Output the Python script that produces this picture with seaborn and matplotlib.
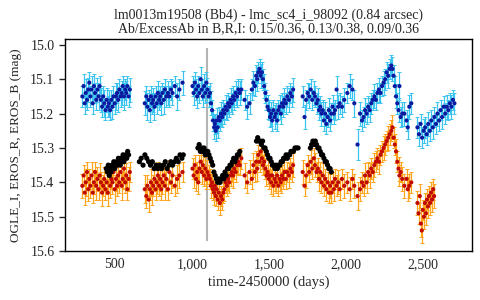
import matplotlib
matplotlib.use("Agg")
import matplotlib.pyplot as plt
from matplotlib.ticker import FuncFormatter
import seaborn as sns

# EROS_B light curve (time-2450000, mag, error)
b_time = [
    290, 298, 305, 312, 320, 328, 335, 342, 350, 357,
    365, 372, 380, 388, 395, 402, 410, 418, 425, 432,
    440, 448, 455, 462, 470, 478, 485, 492, 500, 508,
    515, 522, 530, 538, 545, 552, 560, 568, 575, 582,
    590, 598,
    695, 705, 712, 720, 728, 735, 742, 750, 758, 765,
    772, 780, 788, 795, 802, 810, 818, 825, 835, 845,
    855, 865, 875, 890, 905, 920, 940,
    1005, 1012, 1020, 1028, 1035, 1042, 1050, 1058, 1065, 1072,
    1080, 1088, 1095, 1102, 1110, 1118, 1125, 1132, 1138, 1145,
    1150, 1156, 1162, 1168, 1175, 1182, 1190, 1198, 1205, 1212,
    1220, 1228, 1236, 1244, 1252, 1260, 1268, 1276, 1285, 1294,
    1303, 1312, 1322,
    1343, 1360, 1375, 1390, 1400, 1410, 1418, 1425, 1432, 1440,
    1447, 1455, 1462, 1470, 1478, 1485, 1492, 1500, 1508, 1515,
    1522, 1530, 1538, 1546, 1554, 1562, 1570, 1578, 1586, 1594,
    1602, 1610, 1620, 1630, 1640, 1650, 1658,
    1720, 1732, 1742, 1752, 1762, 1772, 1782, 1792, 1800, 1810,
    1818, 1826, 1834, 1842, 1850, 1858, 1866, 1874, 1882, 1890,
    1898, 1906, 1914, 1922, 1930, 1940, 1950, 1960, 1975, 1990,
    2010, 2025, 2043, 2055, 2076, 2092, 2105, 2115, 2125, 2135,
    2145, 2155, 2165, 2175, 2185, 2195, 2205, 2215, 2225, 2235,
    2245, 2255, 2265, 2275, 2285, 2295, 2303, 2310, 2318, 2326,
    2334, 2342, 2348, 2356, 2366, 2380, 2394, 2402, 2412, 2425,
    2465, 2475, 2485, 2495, 2505, 2515, 2525, 2535, 2545, 2555,
    2565, 2575, 2585, 2595, 2605, 2615, 2625, 2635, 2645, 2655,
    2665, 2675, 2685, 2695, 2705,
]
b_mag = [
    15.15, 15.12, 15.17, 15.14, 15.16, 15.13, 15.11, 15.15, 15.13, 15.17,
    15.12, 15.14, 15.16, 15.13, 15.15, 15.12, 15.16, 15.18, 15.15, 15.17,
    15.19, 15.16, 15.18, 15.17, 15.19, 15.16, 15.18, 15.15, 15.17, 15.15,
    15.14, 15.16, 15.13, 15.15, 15.14, 15.12, 15.15, 15.13, 15.14, 15.12,
    15.15, 15.13,
    15.17, 15.15, 15.18, 15.16, 15.19, 15.15, 15.17, 15.16, 15.18, 15.15,
    15.17, 15.14, 15.16, 15.15, 15.17, 15.14, 15.16, 15.13, 15.15, 15.14,
    15.15, 15.13, 15.14, 15.12, 15.15, 15.13, 15.11,
    15.12, 15.14, 15.11, 15.13, 15.15, 15.12, 15.14, 15.10, 15.13, 15.15,
    15.12, 15.14, 15.11, 15.13, 15.15, 15.14, 15.17, 15.19, 15.22, 15.24,
    15.23, 15.25, 15.22, 15.24, 15.21, 15.22, 15.20, 15.21, 15.19, 15.20,
    15.18, 15.19, 15.17, 15.18, 15.16, 15.17, 15.15, 15.16, 15.14, 15.15,
    15.13, 15.14, 15.13,
    15.16, 15.18, 15.17, 15.13, 15.11, 15.12, 15.09, 15.10, 15.08, 15.07,
    15.09, 15.08, 15.10, 15.12, 15.14, 15.16, 15.18, 15.19, 15.21, 15.20,
    15.22, 15.19, 15.21, 15.20, 15.22, 15.19, 15.18, 15.20, 15.17, 15.18,
    15.16, 15.17, 15.15, 15.16, 15.14, 15.15, 15.13,
    15.15, 15.21, 15.16, 15.14, 15.15, 15.13, 15.16, 15.14, 15.15, 15.17,
    15.16, 15.19, 15.18, 15.20, 15.19, 15.22, 15.20, 15.23, 15.21, 15.19,
    15.22, 15.20, 15.18, 15.20, 15.19, 15.13, 15.18, 15.17, 15.18, 15.16,
    15.14, 15.12, 15.13, 15.17, 15.29, 15.20, 15.22, 15.21, 15.19, 15.20,
    15.18, 15.19, 15.17, 15.16, 15.15, 15.16, 15.14, 15.13, 15.14, 15.12,
    15.11, 15.10, 15.08, 15.09, 15.07, 15.06, 15.07, 15.09, 15.12, 15.15,
    15.17, 15.19, 15.12, 15.21, 15.20, 15.20, 15.22, 15.24, 15.18, 15.17,
    15.24, 15.26, 15.23, 15.27, 15.25, 15.24, 15.26, 15.23, 15.25, 15.22,
    15.24, 15.21, 15.23, 15.20, 15.22, 15.19, 15.21, 15.18, 15.20, 15.18,
    15.19, 15.17, 15.18, 15.16, 15.17,
]
b_err = [
    0.030, 0.035, 0.030, 0.040, 0.030, 0.035, 0.030, 0.030, 0.040, 0.030,
    0.035, 0.030, 0.030, 0.035, 0.040, 0.030, 0.035, 0.030, 0.030, 0.040,
    0.030, 0.035, 0.030, 0.040, 0.030, 0.030, 0.035, 0.030, 0.030, 0.040,
    0.030, 0.035, 0.030, 0.030, 0.035, 0.030, 0.040, 0.030, 0.035, 0.030,
    0.030, 0.035,
    0.035, 0.030, 0.040, 0.030, 0.035, 0.030, 0.030, 0.035, 0.040, 0.030,
    0.030, 0.035, 0.030, 0.030, 0.035, 0.030, 0.040, 0.030, 0.030, 0.035,
    0.030, 0.030, 0.035, 0.030, 0.040, 0.030, 0.035,
    0.030, 0.035, 0.030, 0.030, 0.035, 0.030, 0.030, 0.035, 0.030, 0.030,
    0.035, 0.030, 0.030, 0.035, 0.030, 0.030, 0.035, 0.030, 0.030, 0.035,
    0.030, 0.030, 0.035, 0.030, 0.030, 0.030, 0.035, 0.030, 0.030, 0.030,
    0.035, 0.030, 0.030, 0.030, 0.035, 0.030, 0.030, 0.030, 0.035, 0.030,
    0.030, 0.035, 0.030,
    0.030, 0.035, 0.030, 0.030, 0.035, 0.030, 0.030, 0.035, 0.030, 0.030,
    0.035, 0.030, 0.030, 0.035, 0.030, 0.030, 0.035, 0.030, 0.030, 0.035,
    0.030, 0.030, 0.035, 0.030, 0.030, 0.030, 0.035, 0.030, 0.030, 0.030,
    0.035, 0.030, 0.030, 0.035, 0.030, 0.030, 0.035,
    0.030, 0.035, 0.030, 0.030, 0.035, 0.030, 0.030, 0.035, 0.030, 0.030,
    0.035, 0.030, 0.030, 0.035, 0.030, 0.030, 0.035, 0.030, 0.030, 0.035,
    0.030, 0.030, 0.035, 0.030, 0.030, 0.040, 0.035, 0.030, 0.030, 0.035,
    0.030, 0.035, 0.030, 0.040, 0.045, 0.035, 0.030, 0.030, 0.035, 0.030,
    0.030, 0.035, 0.030, 0.030, 0.035, 0.030, 0.030, 0.035, 0.030, 0.030,
    0.035, 0.030, 0.030, 0.035, 0.030, 0.030, 0.035, 0.030, 0.030, 0.035,
    0.030, 0.035, 0.040, 0.030, 0.035, 0.035, 0.030, 0.035, 0.035, 0.030,
    0.030, 0.035, 0.030, 0.030, 0.035, 0.030, 0.030, 0.035, 0.030, 0.030,
    0.035, 0.030, 0.030, 0.035, 0.030, 0.030, 0.035, 0.030, 0.030, 0.035,
    0.030, 0.030, 0.035, 0.030, 0.030,
]

# EROS_R light curve (same epochs as EROS_B up to 2425, then its own)
r_time = b_time[:219] + [
    2465, 2472, 2480, 2487, 2493, 2500, 2507, 2513, 2520, 2527,
    2533, 2540, 2547, 2553, 2560, 2567, 2573,
]
r_mag = [
    15.41, 15.38, 15.43, 15.40, 15.37, 15.42, 15.39, 15.41, 15.38, 15.43,
    15.40, 15.37, 15.41, 15.39, 15.42, 15.38, 15.40, 15.43, 15.41, 15.39,
    15.42, 15.40, 15.43, 15.38, 15.41, 15.39, 15.40, 15.37, 15.42, 15.39,
    15.41, 15.38, 15.40, 15.37, 15.41, 15.39, 15.36, 15.40, 15.38, 15.42,
    15.39, 15.37,
    15.42, 15.44, 15.41, 15.45, 15.42, 15.40, 15.43, 15.41, 15.39, 15.42,
    15.40, 15.38, 15.41, 15.39, 15.42, 15.40, 15.38, 15.41, 15.39, 15.42,
    15.37, 15.40, 15.38, 15.41, 15.39, 15.38, 15.37,
    15.36, 15.38, 15.35, 15.39, 15.37, 15.40, 15.36, 15.34, 15.37, 15.35,
    15.38, 15.36, 15.39, 15.37, 15.38, 15.39, 15.41, 15.40, 15.42, 15.43,
    15.41, 15.44, 15.42, 15.45, 15.43, 15.46, 15.44, 15.45, 15.43, 15.42,
    15.40, 15.41, 15.39, 15.40, 15.38, 15.37, 15.38, 15.36, 15.37, 15.35,
    15.34, 15.35, 15.33,
    15.38, 15.40, 15.37, 15.39, 15.35, 15.37, 15.34, 15.36, 15.32, 15.34,
    15.31, 15.33, 15.35, 15.34, 15.36, 15.38, 15.37, 15.39, 15.38, 15.40,
    15.38, 15.41, 15.39, 15.40, 15.38, 15.41, 15.39, 15.40, 15.38, 15.39,
    15.37, 15.39, 15.37, 15.38, 15.36, 15.37, 15.35,
    15.37, 15.41, 15.38, 15.35, 15.37, 15.34, 15.36, 15.33, 15.35, 15.37,
    15.36, 15.39, 15.37, 15.40, 15.38, 15.41, 15.39, 15.42, 15.40, 15.43,
    15.41, 15.43, 15.40, 15.42, 15.39, 15.41, 15.40, 15.42, 15.39, 15.41,
    15.40, 15.42, 15.39, 15.41, 15.44, 15.42, 15.40, 15.41, 15.38, 15.40,
    15.37, 15.38, 15.36, 15.37, 15.35, 15.34, 15.33, 15.34, 15.32, 15.31,
    15.30, 15.29, 15.28, 15.27, 15.26, 15.25, 15.24, 15.27, 15.29, 15.31,
    15.34, 15.36, 15.38, 15.37, 15.39, 15.41, 15.39, 15.42, 15.41, 15.40,
    15.46, 15.49, 15.44, 15.52, 15.54, 15.48, 15.50, 15.46, 15.49, 15.45,
    15.47, 15.44, 15.46, 15.43, 15.45, 15.42, 15.44,
]
r_err = [
    0.035, 0.030, 0.035, 0.040, 0.030, 0.035, 0.030, 0.035, 0.040, 0.030,
    0.035, 0.030, 0.040, 0.035, 0.030, 0.035, 0.030, 0.040, 0.030, 0.035,
    0.030, 0.035, 0.040, 0.030, 0.035, 0.030, 0.035, 0.030, 0.040, 0.035,
    0.030, 0.035, 0.030, 0.035, 0.040, 0.030, 0.035, 0.030, 0.035, 0.030,
    0.035, 0.030,
    0.040, 0.035, 0.030, 0.035, 0.030, 0.040, 0.035, 0.030, 0.035, 0.030,
    0.035, 0.040, 0.030, 0.035, 0.030, 0.035, 0.030, 0.040, 0.035, 0.030,
    0.035, 0.030, 0.035, 0.030, 0.040, 0.035, 0.030,
    0.030, 0.035, 0.030, 0.035, 0.030, 0.035, 0.040, 0.030, 0.035, 0.030,
    0.030, 0.035, 0.030, 0.035, 0.030, 0.030, 0.035, 0.030, 0.030, 0.035,
    0.030, 0.030, 0.035, 0.030, 0.030, 0.035, 0.030, 0.030, 0.030, 0.035,
    0.030, 0.030, 0.035, 0.030, 0.030, 0.030, 0.035, 0.030, 0.030, 0.030,
    0.035, 0.030, 0.030,
    0.035, 0.030, 0.035, 0.030, 0.035, 0.030, 0.030, 0.035, 0.030, 0.030,
    0.035, 0.030, 0.030, 0.035, 0.030, 0.030, 0.035, 0.030, 0.030, 0.035,
    0.030, 0.030, 0.035, 0.030, 0.030, 0.030, 0.035, 0.030, 0.030, 0.030,
    0.035, 0.030, 0.030, 0.035, 0.030, 0.030, 0.035,
    0.035, 0.030, 0.035, 0.030, 0.030, 0.035, 0.030, 0.030, 0.035, 0.030,
    0.030, 0.035, 0.030, 0.030, 0.035, 0.030, 0.030, 0.035, 0.030, 0.030,
    0.035, 0.030, 0.030, 0.035, 0.030, 0.030, 0.035, 0.030, 0.030, 0.035,
    0.030, 0.035, 0.030, 0.035, 0.040, 0.035, 0.030, 0.030, 0.035, 0.030,
    0.030, 0.035, 0.030, 0.030, 0.035, 0.030, 0.030, 0.035, 0.030, 0.030,
    0.035, 0.030, 0.030, 0.035, 0.030, 0.030, 0.035, 0.030, 0.030, 0.035,
    0.030, 0.035, 0.030, 0.030, 0.035, 0.035, 0.030, 0.035, 0.035, 0.030,
    0.035, 0.030, 0.035, 0.040, 0.035, 0.030, 0.035, 0.030, 0.035, 0.030,
    0.035, 0.030, 0.035, 0.030, 0.035, 0.030, 0.035,
]

# OGLE_I light curve
i_time = [
    445, 452, 458, 465, 470, 476, 482, 488, 494, 500,
    506, 512, 518, 524, 530, 536, 542, 548, 554, 560,
    566, 572, 578, 584, 590,
    660, 672, 684, 696, 708, 720, 732, 744, 756, 768,
    780, 792, 804, 816, 828, 840, 852, 864, 876, 888,
    900, 912, 924, 936, 945,
    1040, 1048, 1056, 1064, 1072, 1080, 1088, 1096, 1104, 1112,
    1120, 1128, 1136, 1144, 1152, 1160, 1168, 1176, 1184, 1192,
    1200, 1208, 1216, 1224, 1232, 1240, 1248, 1256, 1264, 1272,
    1280, 1288, 1296, 1304, 1312,
    1420, 1428, 1436, 1444, 1452, 1460, 1468, 1476, 1484, 1492,
    1500, 1508, 1516, 1524, 1532, 1540, 1548, 1556, 1564, 1572,
    1580, 1588, 1596, 1604, 1612, 1620, 1628, 1636, 1644, 1652,
    1660, 1670, 1680, 1690,
    1770, 1778, 1786, 1794, 1802, 1810, 1818, 1826, 1834, 1842,
    1850, 1858, 1866, 1874, 1882, 1890, 1898, 1906,
]
i_mag = [
    15.36, 15.37, 15.35, 15.38, 15.36, 15.37, 15.35, 15.36, 15.34, 15.36,
    15.35, 15.34, 15.35, 15.33, 15.34, 15.35, 15.33, 15.34, 15.32, 15.34,
    15.33, 15.32, 15.33, 15.31, 15.32,
    15.34, 15.33, 15.35, 15.32, 15.33, 15.34, 15.35, 15.34, 15.36, 15.35,
    15.36, 15.35, 15.36, 15.35, 15.34, 15.36, 15.35, 15.34, 15.35, 15.34,
    15.33, 15.34, 15.32, 15.33, 15.32,
    15.30, 15.29, 15.31, 15.30, 15.31, 15.30, 15.32, 15.31, 15.31, 15.32,
    15.33, 15.34, 15.35, 15.37, 15.38, 15.39, 15.40, 15.39, 15.40, 15.39,
    15.38, 15.39, 15.37, 15.38, 15.36, 15.36, 15.35, 15.35, 15.34, 15.33,
    15.34, 15.33, 15.32, 15.32, 15.31,
    15.28, 15.27, 15.28, 15.28, 15.29, 15.28, 15.30, 15.30, 15.31, 15.32,
    15.33, 15.33, 15.34, 15.35, 15.35, 15.36, 15.35, 15.36, 15.35, 15.35,
    15.34, 15.34, 15.33, 15.33, 15.32, 15.33, 15.32, 15.32, 15.31, 15.31,
    15.31, 15.30, 15.30, 15.30,
    15.30, 15.29, 15.28, 15.29, 15.28, 15.29, 15.30, 15.30, 15.31, 15.32,
    15.32, 15.33, 15.34, 15.34, 15.35, 15.36, 15.36, 15.37,
]

title = ("lm0013m19508 (Bb4) - lmc_sc4_i_98092 (0.84 arcsec)\n"
         "Ab/ExcessAb in B,R,I: 0.15/0.36, 0.13/0.38, 0.09/0.36")
event_time = 1100

sns.set_style("ticks")
plt.rcParams['font.family'] = ['Liberation Serif', 'DejaVu Serif']

fig, ax = plt.subplots(figsize=(4.8, 3), dpi=100)
fig.subplots_adjust(left=0.135, right=0.983, top=0.87, bottom=0.163)

ax.vlines(event_time, 15.01, 15.57, color='#b4b4b4', lw=1.5, zorder=1)

# EROS_B
ax.errorbar(b_time, b_mag, yerr=b_err, fmt='none', ecolor='#3cc4f0',
            elinewidth=0.9, capsize=1.5, capthick=0.7, zorder=2)
sns.scatterplot(x=b_time, y=b_mag, color='#0a1aa0', s=9, edgecolor='none',
                ax=ax, zorder=3)

# EROS_R
ax.errorbar(r_time, r_mag, yerr=r_err, fmt='none', ecolor='#ffa41c',
            elinewidth=0.9, capsize=1.5, capthick=0.7, zorder=2)
sns.scatterplot(x=r_time, y=r_mag, color='#c00a00', s=9, edgecolor='none',
                ax=ax, zorder=3)

# OGLE_I
sns.scatterplot(x=i_time, y=i_mag, color='black', s=14, edgecolor='none',
                ax=ax, zorder=4)

ax.set_xlim(176, 2818)
ax.set_ylim(15.6, 14.983)
ax.set_yticks([15.0, 15.1, 15.2, 15.3, 15.4, 15.5, 15.6])
ax.yaxis.set_major_formatter(FuncFormatter(lambda v, p: f"{v:.1f}"))
ax.set_xticks([500, 1000, 1500, 2000, 2500])
ax.xaxis.set_major_formatter(FuncFormatter(lambda v, p: f"{int(v):,}"))
ax.tick_params(axis='x', length=0, labelsize=10, pad=5)
ax.tick_params(axis='y', length=4, width=1, direction='out', labelsize=10)
for s in ax.spines.values():
    s.set_linewidth(1)
    s.set_color('black')

ax.set_title(title, fontsize=10, linespacing=1.0, pad=5)
ax.set_xlabel("time-2450000 (days)", fontsize=10.5, labelpad=3)
ax.set_ylabel("OGLE_I, EROS_R, EROS_B (mag)", fontsize=9.5, labelpad=6)

fig.savefig("out.png", dpi=100)
